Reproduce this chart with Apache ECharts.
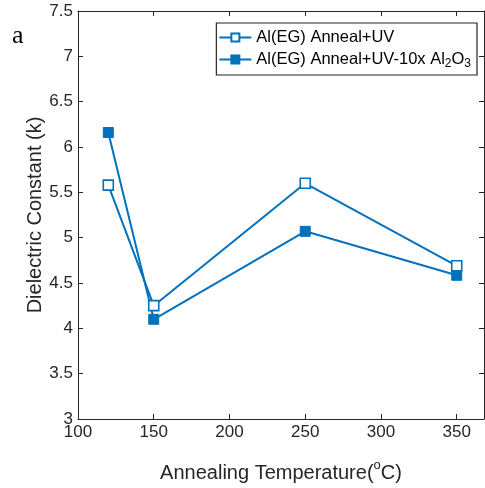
<!DOCTYPE html>
<html>
<head>
<meta charset="utf-8">
<script src="https://cdn.jsdelivr.net/npm/echarts@6/dist/echarts.min.js"></script>
<style>
  html, body { margin: 0; padding: 0; background: #fff; }
  #chart { width: 485px; height: 488px; }
</style>
</head>
<body>
<div id="chart"></div>
<script>
// annealing temperatures (C)
const temps = [120, 150, 250, 350]
const annealUV = [5.58, 4.25, 5.6, 4.69]
const annealUVAl2O3 = [6.16, 4.1, 5.07, 4.585]
const seriesNames = ['Al(EG) Anneal+UV', 'Al(EG) Anneal+UV-10x Al2O3']

const blue = '#0072BD'
const axisColor = '#262626'
const font = 'Liberation Sans, Arial, Helvetica, sans-serif'

const chart = echarts.init(document.getElementById('chart'))

function pairs(vals) {
  return temps.map((t, i) => [t, vals[i]])
}

const boxAxis = {
  axisLine: { show: true, lineStyle: { color: axisColor, width: 1 } },
  axisTick: { show: true, inside: true, length: 5, lineStyle: { color: axisColor } },
  axisLabel: { show: false },
  splitLine: { show: false }
}

chart.setOption({
  animation: false,
  backgroundColor: '#fff',
  grid: { left: 78, right: 1, top: 11, bottom: 69 },
  title: {
    text: 'a',
    left: 7,
    top: 18,
    textStyle: { fontFamily: 'Liberation Serif, Times New Roman, serif', fontSize: 26, fontWeight: 'normal', color: '#000' }
  },
  legend: {
    orient: 'vertical',
    right: 8,
    top: 23,
    itemWidth: 32,
    itemHeight: 10,
    itemGap: 5,
    padding: [6, 6, 5, 2],
    borderColor: axisColor,
    borderWidth: 1.2,
    backgroundColor: '#fff',
    data: seriesNames,
    formatter: function (name) {
      if (name.indexOf('Al2O3') >= 0) {
        return '{n|Al(EG) Anneal+UV-10x Al}{s|2}{n|O}{s|3}'
      }
      return '{n|' + name + '}'
    },
    textStyle: {
      color: '#000',
      fontFamily: font,
      fontSize: 16.5,
      rich: {
        n: { fontFamily: font, fontSize: 16.5, color: '#000' },
        s: { fontFamily: font, fontSize: 12, color: '#000', verticalAlign: 'bottom', padding: [9, 0, 0, 0] }
      }
    }
  },
  xAxis: [
    {
      type: 'value',
      min: 100,
      max: 368,
      interval: 50,
      name: '{n|Annealing Temperature(}{sup|o}{n|C)}',
      nameLocation: 'middle',
      nameGap: 40,
      nameTextStyle: {
        fontFamily: font,
        fontSize: 20,
        color: axisColor,
        rich: {
          n: { fontFamily: font, fontSize: 20, color: axisColor },
          sup: { fontFamily: font, fontSize: 13, color: axisColor, verticalAlign: 'top', padding: [0, 0, 15, 0] }
        }
      },
      axisLine: { show: true, lineStyle: { color: axisColor, width: 1 } },
      axisTick: { show: true, inside: true, length: 5, lineStyle: { color: axisColor } },
      axisLabel: {
        showMaxLabel: false,
        fontFamily: font,
        fontSize: 17,
        color: axisColor,
        margin: 5
      },
      splitLine: { show: false }
    },
    Object.assign({ type: 'value', position: 'top', min: 100, max: 368, interval: 50 }, boxAxis)
  ],
  yAxis: [
    {
      type: 'value',
      min: 3,
      max: 7.5,
      interval: 0.5,
      name: 'Dielectric Constant (k)',
      nameLocation: 'middle',
      nameGap: 33,
      nameMoveOverlap: false,
      nameTextStyle: { fontFamily: font, fontSize: 20, color: axisColor },
      axisLine: { show: true, lineStyle: { color: axisColor, width: 1 } },
      axisTick: { show: true, inside: true, length: 5, lineStyle: { color: axisColor } },
      axisLabel: { fontFamily: font, fontSize: 17, color: axisColor, margin: 5 },
      splitLine: { show: false }
    },
    Object.assign({ type: 'value', position: 'right', min: 3, max: 7.5, interval: 0.5 }, boxAxis)
  ],
  series: [
    {
      name: seriesNames[0],
      type: 'line',
      data: pairs(annealUV),
      symbol: 'rect',
      symbolSize: 10,
      lineStyle: { color: blue, width: 2 },
      itemStyle: { color: '#fff', borderColor: blue, borderWidth: 1.6 },
      z: 3
    },
    {
      name: seriesNames[1],
      type: 'line',
      data: pairs(annealUVAl2O3),
      symbol: 'rect',
      symbolSize: 10,
      lineStyle: { color: blue, width: 2 },
      itemStyle: { color: blue, borderColor: blue, borderWidth: 1 },
      z: 2
    }
  ]
})
</script>
</body>
</html>
